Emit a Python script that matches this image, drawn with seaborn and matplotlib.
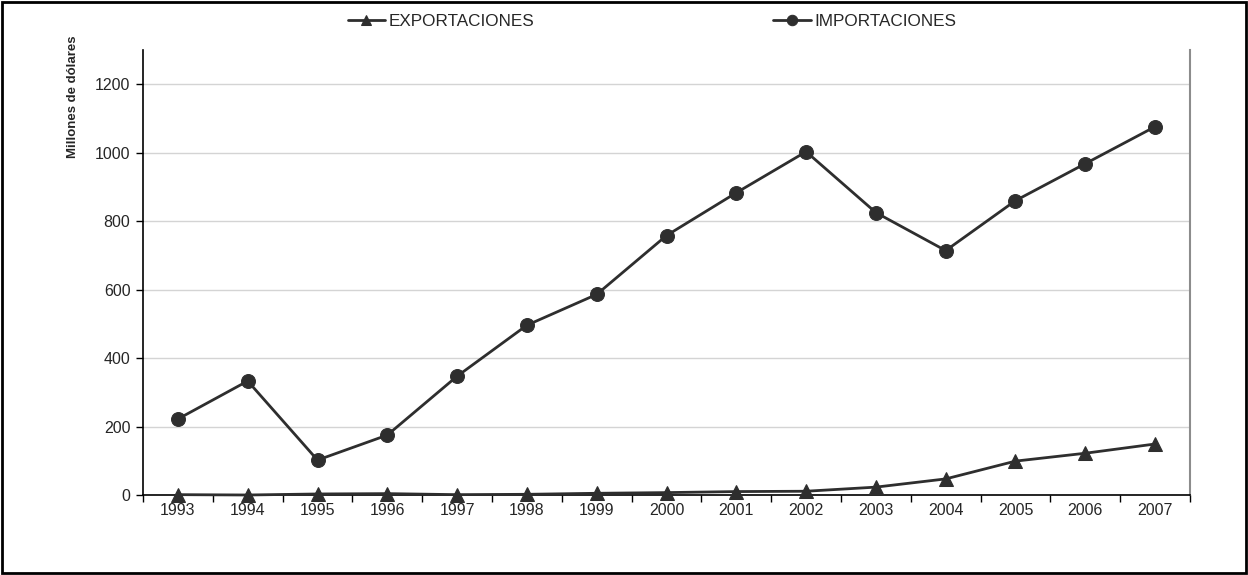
import matplotlib
matplotlib.use("Agg")
import matplotlib.pyplot as plt
import seaborn as sns
import pandas as pd
import numpy as np
from matplotlib.patches import Rectangle

years = ["1993", "1994", "1995", "1996", "1997", "1998", "1999", "2000",
         "2001", "2002", "2003", "2004", "2005", "2006", "2007"]
exportaciones = [1, 0, 3, 4, 1, 2, 5, 7, 10, 11, 23, 47, 99, 122, 149]
importaciones = [222, 333, 102, 175, 347, 496, 586, 758, 883, 1003, 825, 714, 860, 968, 1076]
y_ticks = [0, 200, 400, 600, 800, 1000, 1200]

sns.set_theme(style="white")
plt.rcParams["font.family"] = ["Liberation Sans", "DejaVu Sans"]

df = pd.DataFrame({
    "pos": np.arange(len(years)),
    "EXPORTACIONES": exportaciones,
    "IMPORTACIONES": importaciones,
})

fig = plt.figure(figsize=(12.48, 5.75), dpi=100)
ax = fig.add_axes([143 / 1248, 1 - 495 / 575, (1190 - 143) / 1248, (495 - 50) / 575])

line_color = "#2e2e2e"
sns.lineplot(data=df, x="pos", y="EXPORTACIONES", ax=ax, color=line_color,
             marker="^", markersize=10, markeredgecolor=line_color, linewidth=2,
             label="EXPORTACIONES", clip_on=False, zorder=5)
sns.lineplot(data=df, x="pos", y="IMPORTACIONES", ax=ax, color=line_color,
             marker="o", markersize=10, markeredgecolor=line_color, linewidth=2,
             label="IMPORTACIONES", clip_on=False, zorder=5)

ax.set_xlim(-0.5, len(years) - 0.5)
ax.set_ylim(0, 1300)
ax.set_yticks(y_ticks)
ax.set_yticklabels([str(v) for v in y_ticks], fontsize=11.5)
ax.yaxis.grid(True, color="#d4d4d4", linewidth=1)
ax.set_axisbelow(True)

# category boundaries carry the tick marks, labels sit at the category centres
ax.set_xticks(np.arange(-0.5, len(years), 1.0))
ax.set_xticklabels([])
ax.set_xticks(np.arange(len(years)), minor=True)
ax.set_xticklabels(years, minor=True, fontsize=11.5)
ax.tick_params(axis="x", which="major", direction="out", length=5, width=1, color="black", bottom=True)
ax.tick_params(axis="x", which="minor", length=0, pad=6)
ax.tick_params(axis="y", direction="out", length=5, width=1, color="black", left=True, pad=4)

ax.set_xlabel("")
ax.set_ylabel("Millones de dólares", fontsize=9.5, fontweight="bold")
ax.yaxis.set_label_coords(-0.061, 0.894)

for side in ["left", "bottom"]:
    ax.spines[side].set_color("black")
    ax.spines[side].set_linewidth(1.2)
ax.spines["right"].set_color("#8c8c8c")
ax.spines["right"].set_linewidth(1.5)
ax.spines["top"].set_visible(False)

leg = ax.legend(loc="center", ncol=2, frameon=False, fontsize=12.3,
                columnspacing=14.0, handlelength=2.2, handletextpad=0.2,
                markerscale=0.75)
leg.set_bbox_to_anchor((652 / 1248, 1 - 21 / 575), transform=fig.transFigure)

fig.patches.append(Rectangle((2 / 1248, 2 / 575), 1244 / 1248, 571 / 575,
                             transform=fig.transFigure, fill=False,
                             edgecolor="black", linewidth=2))

fig.savefig("out.png", dpi=100)
